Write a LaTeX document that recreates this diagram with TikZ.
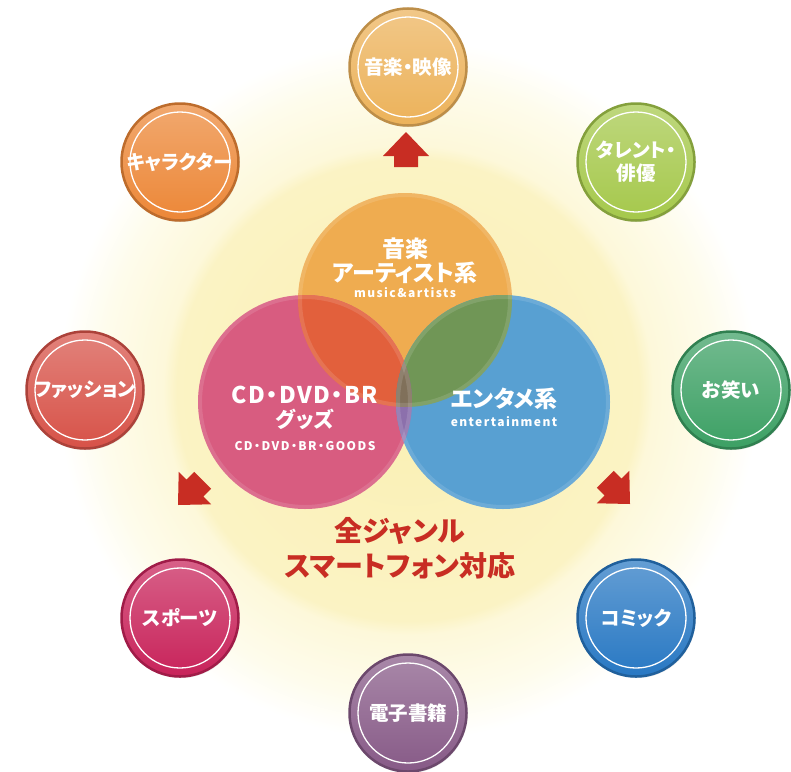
\documentclass[tikz,border=0pt]{standalone}
\usepackage{fontspec}
\setmainfont{Noto Sans CJK JP}[RawFeature=+palt]
\usetikzlibrary{shadows}

\definecolor{musiccol}{RGB}{236,178,90}
\definecolor{characol}{RGB}{236,135,55}
\definecolor{talentcol}{RGB}{165,200,75}
\definecolor{fashioncol}{RGB}{215,82,72}
\definecolor{owaraicol}{RGB}{60,160,100}
\definecolor{sportscol}{RGB}{200,35,90}
\definecolor{comiccol}{RGB}{40,120,195}
\definecolor{ebookcol}{RGB}{135,90,135}
\definecolor{vorange}{RGB}{239,172,80}
\definecolor{vpink}{RGB}{216,92,128}
\definecolor{vblue}{RGB}{88,160,210}
\definecolor{vop}{RGB}{226,96,60}
\definecolor{vob}{RGB}{112,150,86}
\definecolor{vpb}{RGB}{140,112,172}
\definecolor{vopb}{RGB}{128,112,90}
\definecolor{redtxt}{RGB}{200,45,35}
\definecolor{glowA}{RGB}{250,240,178}
\definecolor{glowB}{RGB}{251,243,196}
\definecolor{glowC}{RGB}{253,248,218}
\definecolor{glowD}{RGB}{254,252,236}
\pgfdeclareradialshading{glow}{\pgfpoint{0bp}{0bp}}{color(0bp)=(glowA); color(16.5bp)=(glowB); color(17.5bp)=(glowC); color(22bp)=(glowD); color(25bp)=(white); color(50bp)=(white)}

\begin{document}
\begin{tikzpicture}[x=1pt, y=-1pt,
  genre/.style={circle, minimum size=117pt, line width=2.5pt, text=white, align=center,
    font=\bfseries\fontsize{19.5}{23}\selectfont,
    drop shadow={opacity=0.2, shadow xshift=1pt, shadow yshift=-1.5pt},
    path picture={\draw[white, line width=1.3pt] (path picture bounding box.center) circle (50pt);}},
  venn/.style={draw=white, draw opacity=0.12, line width=4pt},
  vtitle/.style={text=white, align=center, font=\bfseries\fontsize{23}{24}\selectfont},
  vsub/.style={text=white, font=\bfseries\fontsize{12}{14}\selectfont\addfontfeature{LetterSpace=12}},
  redtext/.style={text=redtxt, align=center, font=\bfseries\fontsize{28}{35}\selectfont}]
\useasboundingbox (0,0) rectangle (791,771);
\fill[white] (0,0) rectangle (791,771);
\shade[shading=glow] (408,390) circle (350pt);

\foreach \name/\px/\py/\col/\txt in {
    music/408/67/musiccol/音楽・映像,
    talent/636/162/talentcol/{タレント・\\俳優},
    owarai/731/390/owaraicol/お笑い,
    comic/636/618/comiccol/コミック,
    ebook/408/713/ebookcol/電子書籍,
    sports/180/618/sportscol/スポーツ,
    fashion/85/390/fashioncol/ファッション,
    chara/180/162/characol/キャラクター}
  \node[genre, top color=\col!72!white, bottom color=\col, draw=\col!80!black] (\name) at (\px,\py) {\txt};

\foreach \tx/\ty/\ang in {406/132/0, 178/505/135, 630/504/-135}
  \fill[redtxt, shift={(\tx,\ty)}, rotate=\ang] (0,0) -- (23,24) -- (12,24) -- (12,35) -- (-12,35) -- (-12,24) -- (-23,24) -- cycle;

\coordinate (vo) at (405,300);
\coordinate (vp) at (305,402);
\coordinate (vb) at (503,402);
\fill[vorange] (vo) circle (107pt);
\fill[vpink] (vp) circle (107pt);
\fill[vblue] (vb) circle (107pt);
\begin{scope}
  \clip (vo) circle (107pt);
  \fill[vop] (vp) circle (107pt);
  \fill[vob] (vb) circle (107pt);
\end{scope}
\begin{scope}
  \clip (vp) circle (107pt);
  \fill[vpb] (vb) circle (107pt);
  \clip (vo) circle (107pt);
  \fill[vopb] (vb) circle (107pt);
\end{scope}
\foreach \c in {vo,vp,vb}
  \draw[venn] (\c) circle (105pt);

\node[vtitle] (musicT) at (405,261) {音楽\\アーティスト系};
\node[vsub] (musicS) at (405,293) {music\&artists};
\node[vtitle] (goodsT) at (305,408) {{\addfontfeature{LetterSpace=6}CD・DVD・BR}\\{\fontsize{21}{22}\selectfont グッズ}};
\node[vsub] (goodsS) at (305,446) {CD・DVD・BR・GOODS};
\node[vtitle] (entT) at (504,399) {エンタメ系};
\node[vsub] (entS) at (504,422) {entertainment};
\node[redtext] (allT) at (400,548) {全ジャンル\\スマートフォン対応};
\end{tikzpicture}
\end{document}
